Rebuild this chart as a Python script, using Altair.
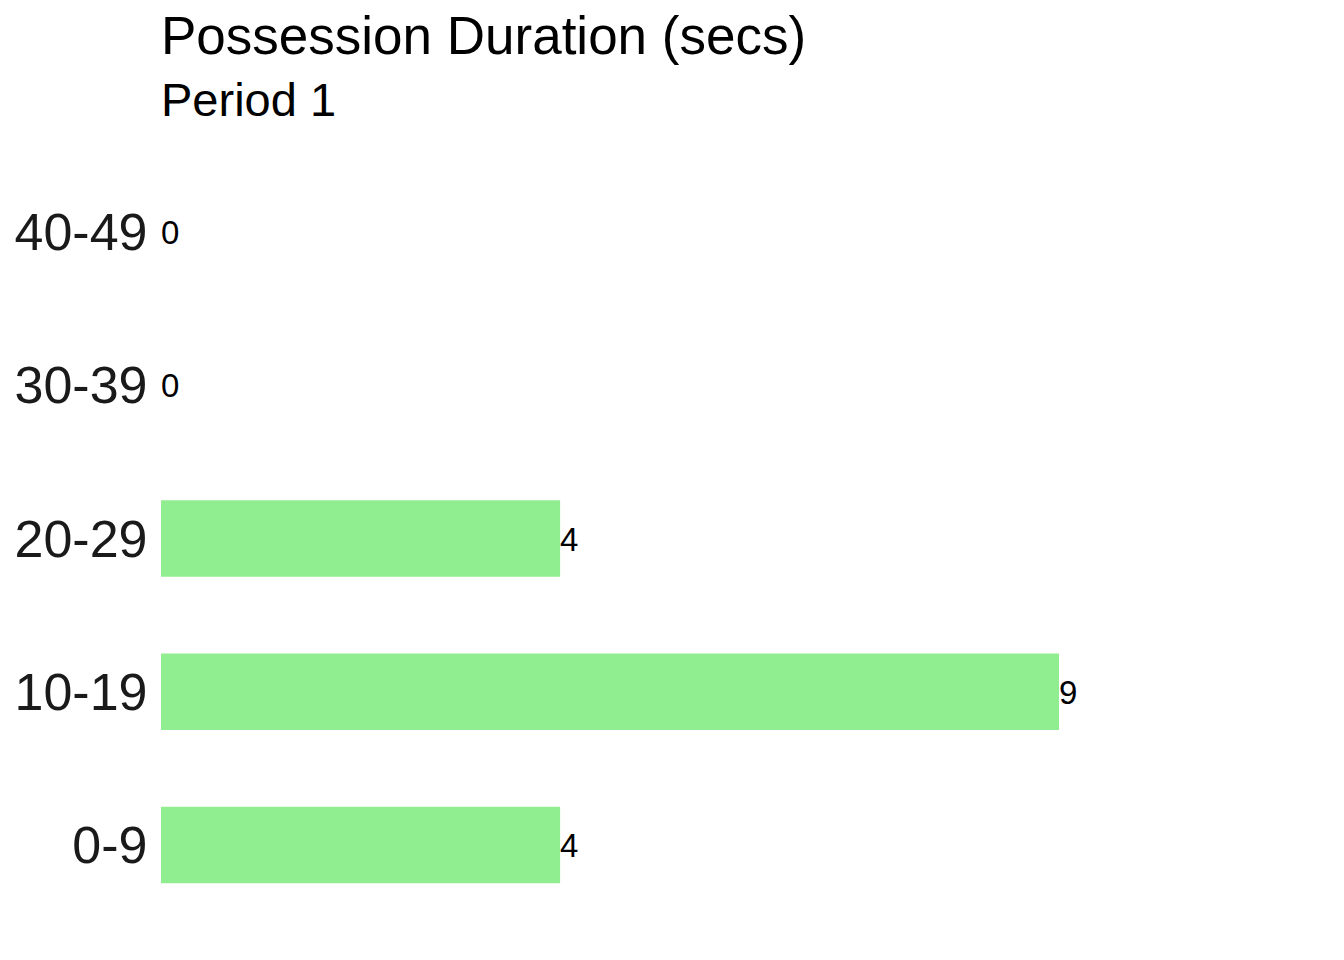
import altair as alt
import pandas as pd

categories = ["0-9", "10-19", "20-29", "30-39", "40-49"]
counts = [4, 9, 4, 0, 0]

df = pd.DataFrame({"bin": categories, "count": counts})
order = list(reversed(categories))

FONT = "Liberation Sans"

y = alt.Y("bin:N", sort=order, title=None,
          scale=alt.Scale(paddingInner=0.5, paddingOuter=0.35),
          axis=alt.Axis(labelFontSize=52, labelFont=FONT, labelColor="#1a1a1a",
                        ticks=False, domain=False, grid=False, labelPadding=14,
                        labelOffset=2))
x = alt.X("count:Q", title=None, axis=None,
          scale=alt.Scale(domain=[0, 9], nice=False, zero=True))

bars = alt.Chart(df).mark_bar(color="#90EE90").encode(x=x, y=y)
labels = alt.Chart(df).mark_text(align="left", baseline="middle", fontSize=33,
                                 dy=2, font=FONT, color="black").encode(
    x=x, y=y, text="count:Q")

chart = (bars + labels).properties(
    width=898, height=797,
    padding={"left": 14, "top": 12, "right": 5, "bottom": 5},
    title=alt.TitleParams("Possession Duration (secs)", subtitle="Period 1",
                          anchor="start", frame="group", font=FONT, fontSize=53,
                          fontWeight="normal", color="black", subtitleFont=FONT,
                          subtitleFontSize=47, subtitleColor="black",
                          subtitlePadding=14, offset=15),
).configure(background="white", view=alt.ViewConfig(stroke=None))

chart.save("out.html", embed_options={"renderer": "svg", "actions": False})
